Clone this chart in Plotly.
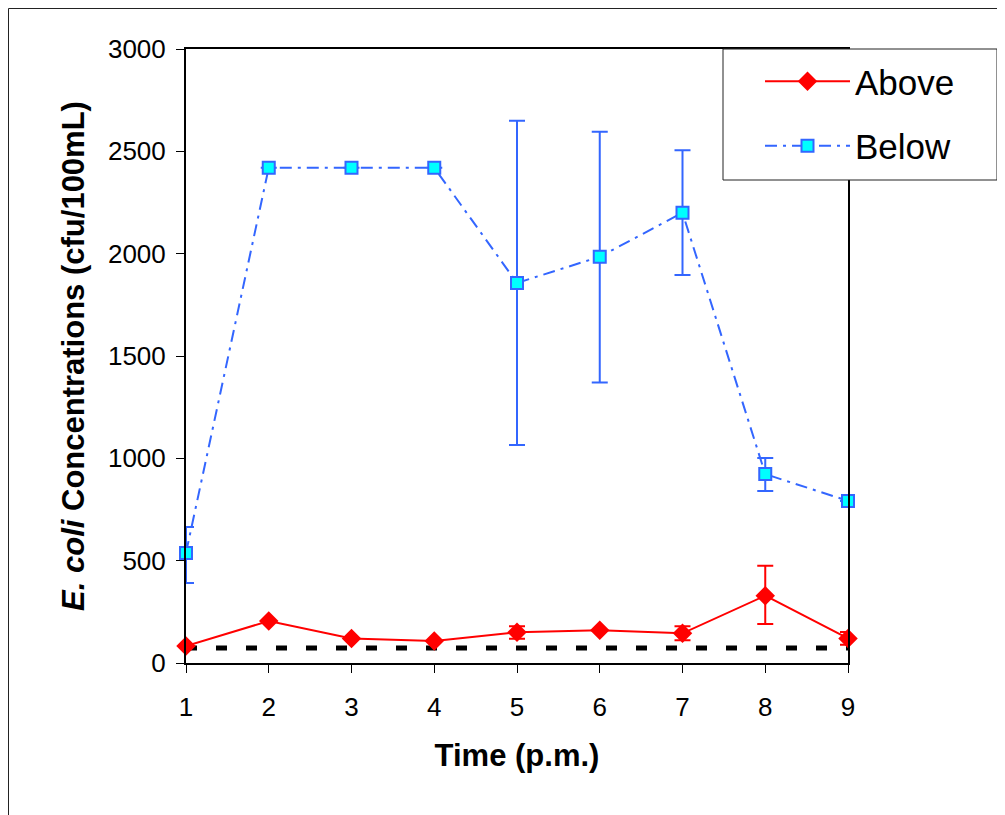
import plotly.graph_objects as go

hours = [1, 2, 3, 4, 5, 6, 7, 8, 9]
tick_labels = ["1", "2", "3", "4", "5", "6", "7", "8", "9"]

above = [83, 205, 120, 107, 150, 160, 145, 329, 120]
above_err_plus = [0, 0, 0, 0, 29, 0, 34, 146, 31]
above_err_minus = [0, 0, 0, 0, 31, 0, 34, 139, 31]

below = [538, 2420, 2420, 2420, 1857, 1985, 2200, 923, 792]
below_err_plus = [126, 0, 0, 0, 793, 611, 305, 79, 0]
below_err_minus = [147, 0, 0, 0, 792, 615, 304, 83, 0]

detect_x = [1, 9]
detect_y = [73, 73]

FONT = "Arial, Liberation Sans, sans-serif"

# page body margin offset (8px) compensated: plot area target 186..848 x 49..663
OFF = 8
PL, PR, PT, PB = 186 - OFF, 848 - OFF, 49 - OFF, 663 - OFF
W, H = 1005 - OFF, 815 - OFF
PW, PH = PR - PL, PB - PT


def px(x):
    return (x - OFF - PL) / PW


def py(y):
    return (PB - (y - OFF)) / PH


fig = go.Figure()

fig.add_trace(go.Scatter(
    x=detect_x, y=detect_y, mode="lines", showlegend=False,
    line=dict(color="black", width=5, dash="11px,19px"), hoverinfo="skip"))

fig.add_trace(go.Scatter(
    x=hours, y=above, name="Above", mode="lines+markers",
    legendgroup="a",
    line=dict(color="#FF0000", width=2),
    marker=dict(symbol="diamond", size=15, color="#FF0000",
                line=dict(color="#FF0000", width=0)),
    error_y=dict(type="data", symmetric=False, array=above_err_plus,
                 arrayminus=above_err_minus, color="#FF0000",
                 thickness=2, width=8),
    cliponaxis=False))

fig.add_trace(go.Scatter(
    x=hours, y=below, name="Below", mode="lines+markers",
    legendgroup="b",
    line=dict(color="#3366FF", width=2, dash="12px,6px,3px,6px"),
    marker=dict(symbol="square", size=12, color="#00FFFF",
                line=dict(color="#3366FF", width=2)),
    error_y=dict(type="data", symmetric=False, array=below_err_plus,
                 arrayminus=below_err_minus, color="#3366FF",
                 thickness=2, width=8),
    cliponaxis=False))

fig.update_layout(
    width=W, height=H,
    margin=dict(l=PL, r=W - PR, t=PT, b=H - PB),
    paper_bgcolor="white", plot_bgcolor="white",
    font=dict(family=FONT, color="black"),
    showlegend=True,
    legend=dict(x=px(760), y=py(52), xanchor="left", yanchor="top",
                bgcolor="rgba(0,0,0,0)", borderwidth=0,
                font=dict(size=35, family=FONT),
                itemwidth=85, tracegroupgap=16),
    shapes=[
        dict(type="rect", xref="paper", yref="paper",
             x0=px(8.5), x1=1.6, y0=-0.6, y1=py(8.5),
             line=dict(color="#222222", width=1), fillcolor="rgba(0,0,0,0)",
             layer="below"),
        dict(type="rect", xref="paper", yref="paper",
             x0=px(723), x1=px(997), y0=py(180), y1=1.0,
             line=dict(color="#222222", width=1), fillcolor="white",
             layer="above"),
    ],
)

fig.update_xaxes(
    range=[1, 9], tickmode="array", tickvals=hours, ticktext=tick_labels,
    showgrid=False, zeroline=False, showline=True, linecolor="black",
    linewidth=2, mirror=True, ticks="outside", ticklen=8, tickwidth=1,
    tickcolor="black", tickfont=dict(size=26, family=FONT),
    ticklabelstandoff=12,
    title=dict(text="<b>Time (p.m.)</b>", font=dict(size=31, family=FONT),
               standoff=23))

fig.update_yaxes(
    range=[0, 3000], tickmode="linear", tick0=0, dtick=500,
    showgrid=False, zeroline=False, showline=True, linecolor="black",
    linewidth=2, mirror=True, ticks="outside", ticklen=8, tickwidth=1,
    tickcolor="black", tickfont=dict(size=26, family=FONT),
    ticklabelstandoff=5,
    title=dict(text="<b><i>E. coli</i> Concentrations (cfu/100mL)</b>",
               font=dict(size=31, family=FONT), standoff=14))

fig.write_html("out.html")
